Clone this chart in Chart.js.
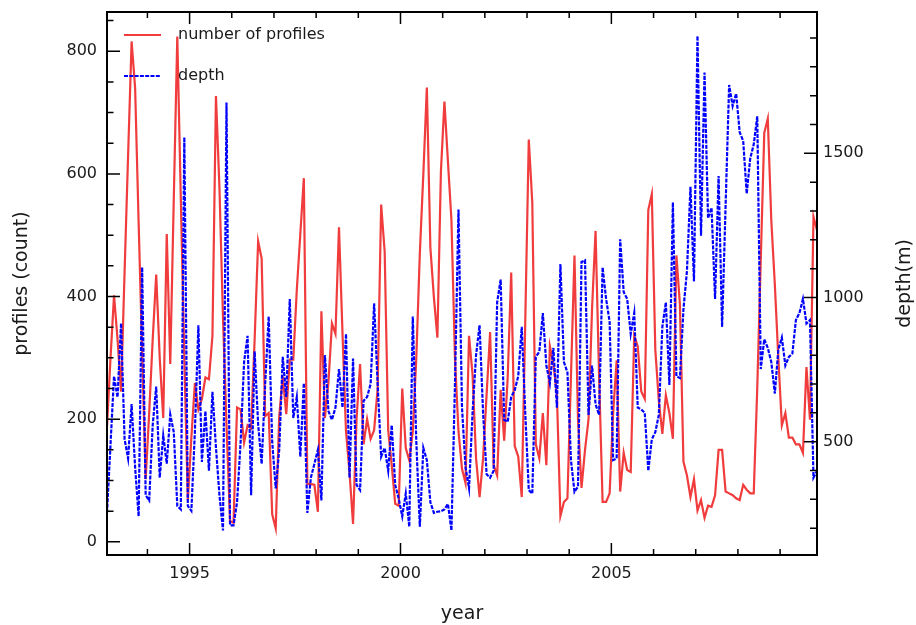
<!DOCTYPE html>
<html>
<head>
<meta charset="utf-8">
<script src="https://cdn.jsdelivr.net/npm/chart.js@4"></script>
<style>
  html, body { margin: 0; padding: 0; background: #fff; }
</style>
</head>
<body>
<canvas id="chart" width="916" height="625"></canvas>
<script>
// monthly values, Jan 1993 .. Nov 2009
const firstYear = 1993;
const profileCounts = [
  188, 300, 402, 330, 245, 440, 630, 816, 740, 520, 310, 102,
  210, 330, 436, 300, 202, 502, 290, 560, 824, 560, 300, 68,
  170, 259, 216, 233, 268, 265, 336, 727, 576, 366, 191, 34,
  31, 219, 216, 162, 190, 185, 330, 490, 462, 205, 210, 45,
  22, 205, 270, 208, 297, 297, 411, 502, 593, 94, 94, 93,
  49, 376, 202, 260, 356, 339, 513, 340, 180, 113, 29, 200,
  290, 159, 200, 168, 182, 250, 550, 473, 182, 125, 62, 59,
  250, 153, 133, 180, 300, 470, 600, 741, 480, 399, 333, 604,
  718, 620, 524, 300, 180, 119, 96, 336, 273, 136, 73, 136,
  240, 342, 125, 108, 248, 165, 268, 439, 156, 139, 73, 360,
  656, 553, 159, 136, 210, 125, 319, 290, 240, 42, 65, 71,
  270, 467, 200, 88, 150, 200, 380, 507, 270, 65, 65, 79,
  210, 296, 82, 145, 117, 114, 336, 319, 245, 233, 541, 567,
  313, 230, 176, 239, 210, 168, 467, 387, 131, 108, 73, 102,
  51, 68, 39, 59, 57, 76, 150, 150, 82, 79, 76, 71,
  68, 93, 85, 79, 79, 250, 460, 667, 690, 524, 420, 300,
  190, 210, 170, 170, 159, 159, 145, 285, 199, 530, 508
];
const depths = [
  253, 490, 727, 654, 910, 509, 442, 630, 411, 241, 1105, 314,
  296, 557, 691, 375, 521, 424, 594, 533, 277, 265, 1555, 277,
  260, 533, 904, 430, 606, 399, 673, 480, 314, 192, 1676, 210,
  210, 290, 496, 776, 867, 314, 813, 560, 423, 700, 934, 500,
  338, 472, 794, 655, 995, 582, 655, 448, 703, 253, 375, 423,
  472, 296, 800, 606, 576, 618, 752, 618, 874, 375, 788, 350,
  332, 642, 655, 700, 980, 700, 448, 478, 399, 557, 350, 302,
  241, 320, 205, 934, 500, 205, 478, 436, 290, 253, 257, 259,
  265, 284, 192, 700, 1305, 618, 411, 338, 600, 800, 904, 600,
  387, 375, 399, 983, 1062, 576, 569, 655, 679, 727, 898, 600,
  332, 320, 794, 812, 946, 764, 703, 825, 618, 1116, 776, 740,
  436, 326, 344, 1123, 1129, 593, 764, 630, 593, 1104, 995, 916,
  436, 442, 1202, 1019, 995, 874, 946, 618, 612, 600, 399, 508,
  533, 593, 898, 983, 697, 1330, 727, 721, 958, 1092, 1384, 1056,
  1907, 1214, 1780, 1275, 1311, 995, 1421, 898, 1320, 1737, 1664, 1707,
  1573, 1543, 1360, 1482, 1531, 1628, 752, 855, 825, 776, 667, 819,
  861, 764, 794, 806, 922, 946, 995, 910, 922, 375, 399
];
const yearTicks = [1995, 2000, 2005];
const countTicks = [0, 200, 400, 600, 800];
const depthTicks = [500, 1000, 1500];
const seriesNames = ["number of profiles", "depth"];

const monthYears = profileCounts.map((_, i) => firstYear + (i + 0.5) / 12);

const RED = "#f03c3c";
const BLUE = "#0000ff";
const FONT = "'DejaVu Sans', sans-serif";
const TEXT = "#1a1a1a";
const DASH = [4, 1.3];

// inward ticks (major + minor), frame, legend and axis titles
const decorations = {
  id: "decorations",
  afterDraw(chart) {
    const { ctx, chartArea: a, scales } = chart;
    ctx.save();
    ctx.strokeStyle = "#000";
    ctx.lineWidth = 1.5;
    ctx.beginPath();
    for (let yr = 1993; yr <= 2010; yr++) {
      const px = scales.x.getPixelForValue(yr);
      if (px < a.left + 1 || px > a.right - 1) continue;
      const len = yr % 5 === 0 ? 12 : 6;
      ctx.moveTo(px, a.bottom); ctx.lineTo(px, a.bottom - len);
      ctx.moveTo(px, a.top); ctx.lineTo(px, a.top + len);
    }
    for (let v = 0; v <= 850; v += 50) {
      const py = scales.y.getPixelForValue(v);
      const len = v % 200 === 0 ? 13 : 6.5;
      ctx.moveTo(a.left, py); ctx.lineTo(a.left + len, py);
    }
    for (let v = 200; v <= 1900; v += 100) {
      const py = scales.y1.getPixelForValue(v);
      const len = v % 500 === 0 ? 13 : 7;
      ctx.moveTo(a.right, py); ctx.lineTo(a.right - len, py);
    }
    ctx.stroke();

    ctx.lineWidth = 2;
    ctx.strokeRect(a.left, a.top, a.right - a.left, a.bottom - a.top);

    // legend
    ctx.lineWidth = 2.2;
    ctx.strokeStyle = RED;
    ctx.beginPath(); ctx.moveTo(124, 35); ctx.lineTo(161, 35); ctx.stroke();
    ctx.strokeStyle = BLUE;
    ctx.setLineDash(DASH);
    ctx.beginPath(); ctx.moveTo(124, 76); ctx.lineTo(161, 76); ctx.stroke();
    ctx.setLineDash([]);
    ctx.fillStyle = TEXT;
    ctx.font = "16px " + FONT;
    ctx.textAlign = "left";
    ctx.textBaseline = "middle";
    ctx.fillText(seriesNames[0], 178, 35);
    ctx.fillText(seriesNames[1], 178, 76);

    // axis titles
    ctx.font = "19px " + FONT;
    ctx.textAlign = "center";
    ctx.fillText("year", (a.left + a.right) / 2, 614);
    const midY = (a.top + a.bottom) / 2;
    ctx.save();
    ctx.translate(22, midY); ctx.rotate(-Math.PI / 2);
    ctx.fillText("profiles (count)", 0, 0);
    ctx.restore();
    ctx.save();
    ctx.translate(905, midY); ctx.rotate(-Math.PI / 2);
    ctx.fillText("depth(m)", 0, 0);
    ctx.restore();
    ctx.restore();
  }
};

const tickFont = { family: FONT, size: 16 };
const noPad = (s) => { s.paddingTop = 0; s.paddingBottom = 0; s.paddingLeft = 0; s.paddingRight = 0; };

new Chart(document.getElementById("chart"), {
  type: "line",
  data: {
    datasets: [
      {
        label: seriesNames[1],
        data: monthYears.map((x, i) => ({ x, y: depths[i] })),
        yAxisID: "y1",
        borderColor: BLUE,
        borderWidth: 2.2,
        borderDash: DASH,
        pointRadius: 0,
        tension: 0,
        order: 0
      },
      {
        label: seriesNames[0],
        data: monthYears.map((x, i) => ({ x, y: profileCounts[i] })),
        yAxisID: "y",
        borderColor: RED,
        borderWidth: 2.2,
        pointRadius: 0,
        tension: 0,
        order: 1
      }
    ]
  },
  options: {
    responsive: false,
    animation: false,
    devicePixelRatio: 1,
    layout: { padding: { top: 12, left: 0, right: 0, bottom: 0 } },
    plugins: { legend: { display: false }, tooltip: { enabled: false } },
    scales: {
      x: {
        type: "linear",
        min: monthYears[0],
        max: monthYears[monthYears.length - 1],
        afterBuildTicks: (s) => { s.ticks = yearTicks.map((v) => ({ value: v })); },
        afterFit: (s) => { s.height = 70; noPad(s); },
        ticks: { callback: (v) => String(v), padding: 9, font: tickFont, color: TEXT, maxRotation: 0, autoSkip: false },
        grid: { display: false, drawTicks: false },
        border: { display: false }
      },
      y: {
        position: "left",
        min: -21.5,
        max: 864,
        afterBuildTicks: (s) => { s.ticks = countTicks.map((v) => ({ value: v })); },
        afterFit: (s) => { s.width = 107; noPad(s); },
        ticks: { callback: (v) => String(v), padding: 10, font: tickFont, color: TEXT },
        grid: { display: false, drawTicks: false },
        border: { display: false }
      },
      y1: {
        position: "right",
        min: 107,
        max: 1990,
        afterBuildTicks: (s) => { s.ticks = depthTicks.map((v) => ({ value: v })); },
        afterFit: (s) => { s.width = 99; noPad(s); },
        ticks: { callback: (v) => String(v), padding: 6, font: tickFont, color: TEXT },
        grid: { display: false, drawTicks: false },
        border: { display: false }
      }
    }
  },
  plugins: [decorations]
});
</script>
</body>
</html>
